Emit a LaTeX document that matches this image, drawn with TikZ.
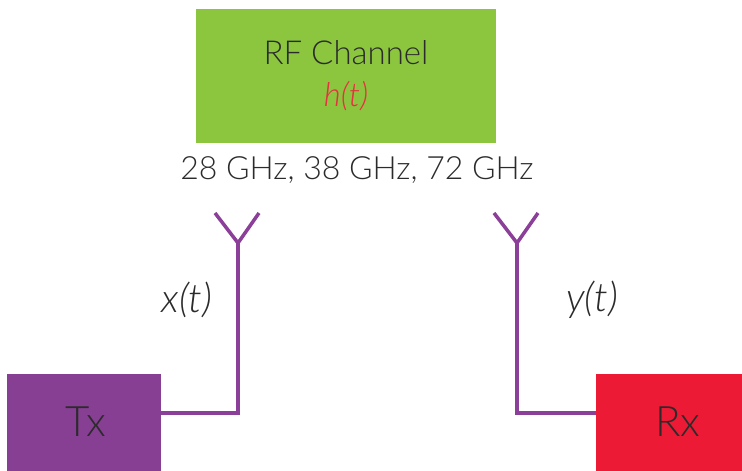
\documentclass[tikz,border=0pt]{standalone}
\usepackage{fontspec}
\setmainfont{Lato}[UprightFont={* Light}, ItalicFont={* Light Italic}]
\usepackage{xcolor}
\usetikzlibrary{positioning}
\definecolor{chgreen}{HTML}{8CC63F}
\definecolor{txpurple}{HTML}{873F93}
\definecolor{rxred}{HTML}{ED1A35}
\definecolor{wirepurple}{HTML}{8B3F98}
\definecolor{txtgray}{HTML}{2B2B2B}
\definecolor{htred}{HTML}{E33240}

\begin{document}
\begin{tikzpicture}[x=1pt, y=-1pt,
  block/.style={rectangle, inner sep=0pt, text=txtgray, align=center},
  wire/.style={draw=wirepurple, line width=3.5pt},
  sig/.style={text=txtgray, font=\fontsize{40}{42}\selectfont\itshape}
]
  \useasboundingbox (0,0) rectangle (742,471);

  \node[block, fill=chgreen, minimum width=300pt, minimum height=134pt,
    font=\fontsize{33}{42}\selectfont] (ch) at (346,76)
    {RF Channel\\{\color{htred}\itshape h(t)}};
  \node[text=txtgray, font=\fontsize{32}{36}\selectfont] (freq) at (357,170)
    {28 GHz, 38 GHz, 72 GHz};

  \node[block, fill=txpurple, minimum width=154pt, minimum height=97pt] (tx) at (84,422.5) {};
  \node[text=txtgray, font=\fontsize{42}{44}\selectfont] (txlbl) at (86,422) {Tx};
  \node[block, fill=rxred, minimum width=146pt, minimum height=97pt] (rx) at (669,422.5) {};
  \node[text=txtgray, font=\fontsize{42}{44}\selectfont] (rxlbl) at (678,422) {Rx};

  % antennas
  \coordinate (txant) at (238,243);
  \coordinate (rxant) at (517,243);
  \coordinate (txfeed) at (161,413);
  \coordinate (rxfeed) at (596,413);
  \draw[wire] (txfeed) -| (txant);
  \draw[wire] (rxfeed) -| (rxant);
  \draw[wire] (txant) -- ++(-23,-30) (txant) -- ++(21,-30);
  \draw[wire] (rxant) -- ++(-23,-30) (rxant) -- ++(21,-30);

  \node[sig] (xt) at (187,300) {x(t)};
  \node[sig] (yt) at (592,300) {y(t)};
\end{tikzpicture}
\end{document}
